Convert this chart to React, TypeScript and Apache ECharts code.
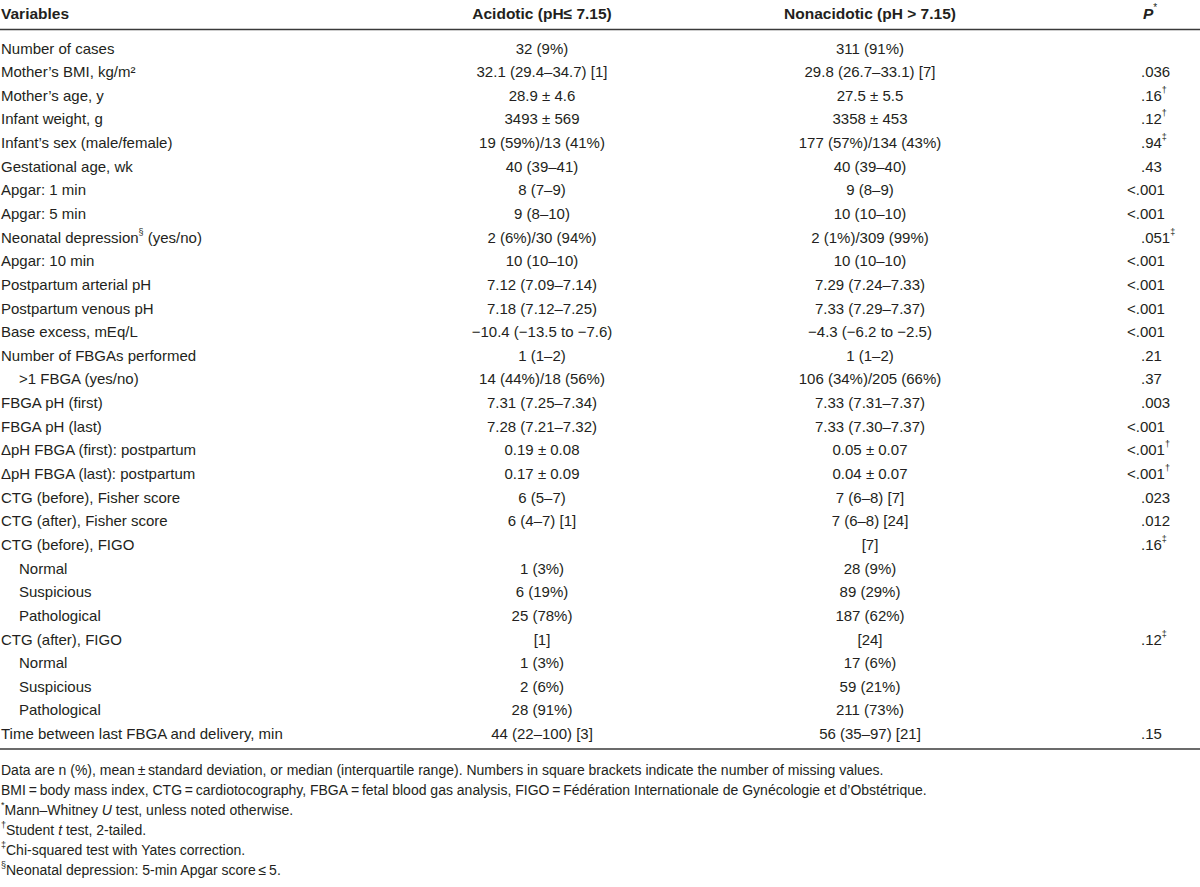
import React, { useEffect, useRef } from 'react';
import * as echarts from 'echarts';

// ---------- data ----------
const headerVariables = 'Variables';
const headerAcidotic = 'Acidotic (pH\u2264 7.15)';
const headerNonacidotic = 'Nonacidotic (pH > 7.15)';
const headerP = 'P';

const variables = [
  'Number of cases',
  'Mother\u2019s BMI, kg/m\u00b2',
  'Mother\u2019s age, y',
  'Infant weight, g',
  'Infant\u2019s sex (male/female)',
  'Gestational age, wk',
  'Apgar: 1 min',
  'Apgar: 5 min',
  'Neonatal depression\u00a7 (yes/no)',
  'Apgar: 10 min',
  'Postpartum arterial pH',
  'Postpartum venous pH',
  'Base excess, mEq/L',
  'Number of FBGAs performed',
  '>1 FBGA (yes/no)',
  'FBGA pH (first)',
  'FBGA pH (last)',
  '\u0394pH FBGA (first): postpartum',
  '\u0394pH FBGA (last): postpartum',
  'CTG (before), Fisher score',
  'CTG (after), Fisher score',
  'CTG (before), FIGO',
  'Normal',
  'Suspicious',
  'Pathological',
  'CTG (after), FIGO',
  'Normal',
  'Suspicious',
  'Pathological',
  'Time between last FBGA and delivery, min',
];

const indentLevel = [
  0, 0, 0, 0, 0, 0, 0, 0, 0, 0,
  0, 0, 0, 0, 1, 0, 0, 0, 0, 0,
  0, 0, 1, 1, 1, 0, 1, 1, 1, 0,
];

const acidotic = [
  '32 (9%)',
  '32.1 (29.4\u201334.7) [1]',
  '28.9 \u00b1 4.6',
  '3493 \u00b1 569',
  '19 (59%)/13 (41%)',
  '40 (39\u201341)',
  '8 (7\u20139)',
  '9 (8\u201310)',
  '2 (6%)/30 (94%)',
  '10 (10\u201310)',
  '7.12 (7.09\u20137.14)',
  '7.18 (7.12\u20137.25)',
  '\u221210.4 (\u221213.5 to \u22127.6)',
  '1 (1\u20132)',
  '14 (44%)/18 (56%)',
  '7.31 (7.25\u20137.34)',
  '7.28 (7.21\u20137.32)',
  '0.19 \u00b1 0.08',
  '0.17 \u00b1 0.09',
  '6 (5\u20137)',
  '6 (4\u20137) [1]',
  '',
  '1 (3%)',
  '6 (19%)',
  '25 (78%)',
  '[1]',
  '1 (3%)',
  '2 (6%)',
  '28 (91%)',
  '44 (22\u2013100) [3]',
];

const nonacidotic = [
  '311 (91%)',
  '29.8 (26.7\u201333.1) [7]',
  '27.5 \u00b1 5.5',
  '3358 \u00b1 453',
  '177 (57%)/134 (43%)',
  '40 (39\u201340)',
  '9 (8\u20139)',
  '10 (10\u201310)',
  '2 (1%)/309 (99%)',
  '10 (10\u201310)',
  '7.29 (7.24\u20137.33)',
  '7.33 (7.29\u20137.37)',
  '\u22124.3 (\u22126.2 to \u22122.5)',
  '1 (1\u20132)',
  '106 (34%)/205 (66%)',
  '7.33 (7.31\u20137.37)',
  '7.33 (7.30\u20137.37)',
  '0.05 \u00b1 0.07',
  '0.04 \u00b1 0.07',
  '7 (6\u20138) [7]',
  '7 (6\u20138) [24]',
  '[7]',
  '28 (9%)',
  '89 (29%)',
  '187 (62%)',
  '[24]',
  '17 (6%)',
  '59 (21%)',
  '211 (73%)',
  '56 (35\u201397) [21]',
];

const pValues = [
  '',
  '.036',
  '.16\u2020',
  '.12\u2020',
  '.94\u2021',
  '.43',
  '<.001',
  '<.001',
  '.051\u2021',
  '<.001',
  '<.001',
  '<.001',
  '<.001',
  '.21',
  '.37',
  '.003',
  '<.001',
  '<.001\u2020',
  '<.001\u2020',
  '.023',
  '.012',
  '.16\u2021',
  '', '', '',
  '.12\u2021',
  '', '', '',
  '.15',
];

const footnotes = [
  'Data are n (%), mean\u2009\u00b1\u2009standard deviation, or median (interquartile range). Numbers in square brackets indicate the number of missing values.',
  'BMI\u2009=\u2009body mass index, CTG\u2009=\u2009cardiotocography, FBGA\u2009=\u2009fetal blood gas analysis, FIGO\u2009=\u2009F\u00e9d\u00e9ration Internationale de Gyn\u00e9cologie et d\u2019Obst\u00e9trique.',
  '* Mann\u2013Whitney _U_ test, unless noted otherwise.',
  '\u2020 Student _t_ test, 2-tailed.',
  '\u2021 Chi-squared test with Yates correction.',
  '\u00a7 Neonatal depression: 5-min Apgar score\u2009\u2264\u20095.',
];

// ---------- layout / style ----------
const FONT = "'Liberation Sans', Arial, Helvetica, sans-serif";
const INK = '#231f20';
const SIZE = 15;
const FOOT_SIZE = 14;
const ROW_H = 23.64;
const TABLE_TOP = 36.2;
const X_LABEL = 1;
const INDENT = 18;
const X_ACID = 542;
const X_NON = 870;
const X_DOT = 1141;
const LT_HANG = 14;

const richFor = (size: number) => ({
  sup: {
    fontSize: Math.round(size * 0.62),
    fontFamily: FONT,
    fill: INK,
    verticalAlign: 'top',
    lineHeight: Math.round(size * 0.62),
  },
  it: { fontSize: size, fontFamily: FONT, fontStyle: 'italic', fill: INK, lineHeight: size + 5 },
});

const toRich = (s: string) =>
  s
    .replace(/_([^_]+)_/g, '{it|$1}')
    .replace(/^([*\u2020\u2021\u00a7]) /, '{sup|$1}')
    .replace(/([*\u2020\u2021\u00a7])/g, (m, c, off, str) => {
      if (str[off - 1] === '|') return m;
      return '{sup|' + c + '}';
    });

const textStyle = (text: string, align: string, size = SIZE, weight = 'normal', italic = false) => ({
  text: toRich(text),
  fill: INK,
  fontSize: size,
  fontFamily: FONT,
  fontWeight: weight,
  fontStyle: italic ? 'italic' : 'normal',
  lineHeight: size + 5,
  textAlign: align,
  textVerticalAlign: 'middle',
  rich: richFor(size),
});

export default function App() {
  const ref = useRef<HTMLDivElement>(null);

  useEffect(() => {
    if (!ref.current) return;
    const chart = echarts.init(ref.current, undefined, { renderer: 'svg' });

    const tableHeight = ROW_H * variables.length;

    const option: any = {
      animation: false,
      backgroundColor: '#ffffff',
      grid: { left: 0, right: 0, top: TABLE_TOP, height: tableHeight, containLabel: false },
      xAxis: { type: 'value', min: 0, max: 1200, show: false },
      yAxis: { type: 'category', data: variables, inverse: true, show: false },
      series: [
        {
          type: 'custom',
          coordinateSystem: 'cartesian2d',
          clip: false,
          silent: true,
          encode: { x: 0, y: 1 },
          data: variables.map((_, i) => [0, i]),
          renderItem: (params: any, api: any) => {
            const i = api.value(1);
            const y = api.coord([0, i])[1];
            const xAt = (v: number) => api.coord([v, i])[0];
            const children: any[] = [];
            children.push({
              type: 'text',
              x: xAt(X_LABEL + indentLevel[i] * INDENT),
              y,
              style: textStyle(variables[i], 'left'),
            });
            if (acidotic[i]) {
              children.push({ type: 'text', x: xAt(X_ACID), y, style: textStyle(acidotic[i], 'center') });
            }
            if (nonacidotic[i]) {
              children.push({ type: 'text', x: xAt(X_NON), y, style: textStyle(nonacidotic[i], 'center') });
            }
            const p = pValues[i];
            if (p) {
              const hang = p.startsWith('<') ? LT_HANG : 0;
              children.push({ type: 'text', x: xAt(X_DOT - hang), y, style: textStyle(p, 'left') });
            }
            return { type: 'group', children };
          },
        },
      ],
      graphic: [
        { type: 'text', x: X_LABEL, y: 13, style: textStyle(headerVariables, 'left', 15.5, 'bold') },
        { type: 'text', x: X_ACID, y: 13, style: textStyle(headerAcidotic, 'center', 15.5, 'bold') },
        { type: 'text', x: X_NON, y: 13, style: textStyle(headerNonacidotic, 'center', 15.5, 'bold') },
        { type: 'text', x: X_DOT + 2, y: 13, style: textStyle(headerP + '*', 'left', 15.5, 'bold', true) },
        { type: 'line', shape: { x1: 0, y1: 29.5, x2: 1200, y2: 29.5 }, style: { stroke: '#3a3a3a', lineWidth: 1.5 } },
        {
          type: 'line',
          shape: { x1: 0, y1: 749, x2: 1200, y2: 749 },
          style: { stroke: '#3a3a3a', lineWidth: 1.5 },
        },
        ...footnotes.map((f, k) => ({
          type: 'text',
          x: 1,
          y: 770 + k * 20,
          style: textStyle(f, 'left', FOOT_SIZE),
        })),
      ],
    };

    chart.setOption(option);
    return () => chart.dispose();
  }, []);

  return (
    <div
      ref={ref}
      style={{ position: 'fixed', left: 0, top: 0, width: 1200, height: 887, background: '#fff' }}
    />
  );
}
